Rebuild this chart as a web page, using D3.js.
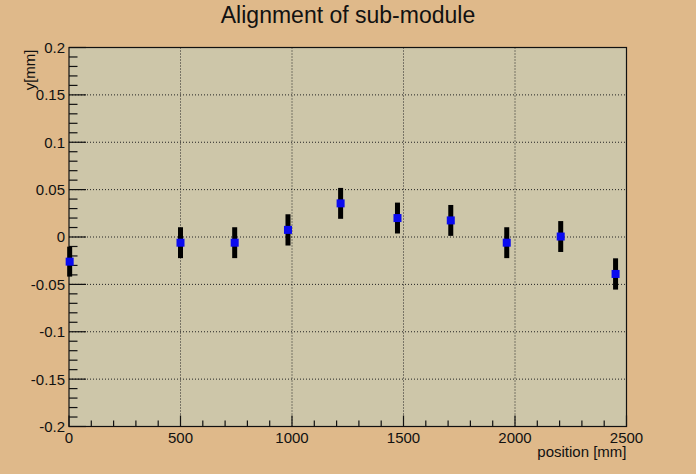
<!DOCTYPE html>
<html>
<head>
<meta charset="utf-8">
<script src="https://cdn.jsdelivr.net/npm/d3@7"></script>
<style>
  body { margin: 0; background: #dfb98a; }
  text { font-family: "Liberation Sans", Arial, Helvetica, sans-serif; fill: #111; }
</style>
</head>
<body>
<div id="chart"></div>
<script>
// module positions along the beam and measured y offsets
const positions = [3, 500, 743, 982, 1218, 1473, 1712, 1963, 2205, 2451];
const yOffsets = [-0.026, -0.006, -0.006, 0.0075, 0.0355, 0.020, 0.0175, -0.006, 0.0005, -0.039];
const yErrors = [0.0158, 0.0163, 0.0163, 0.0165, 0.0163, 0.0163, 0.0163, 0.0163, 0.0163, 0.0165];
const xTicks = [0, 500, 1000, 1500, 2000, 2500];
const yTicks = [-0.2, -0.15, -0.1, -0.05, 0, 0.05, 0.1, 0.15, 0.2];

const W = 696, H = 474;
const margin = { top: 47.5, right: 69.5, bottom: 47.5, left: 69 };
const w = W - margin.left - margin.right,
    h = H - margin.top - margin.bottom;

const svg = d3.select("#chart").append("svg")
    .attr("width", W)
    .attr("height", H);

svg.append("rect")
    .attr("width", W).attr("height", H)
    .attr("fill", "#dfb98a");

//Title
svg.append("text")
    .attr("x", W / 2)
    .attr("y", 23)
    .attr("text-anchor", "middle")
    .style("font-size", "23px")
    .text("Alignment of sub-module");

const g = svg.append("g")
    .attr("transform", "translate(" + margin.left + "," + margin.top + ")");

const x = d3.scaleLinear().domain([0, 2500]).range([0, w]);
const y = d3.scaleLinear().domain([-0.2, 0.2]).range([h, 0]);

//Frame
g.append("rect")
    .attr("width", w).attr("height", h)
    .attr("fill", "#cdc6a9");

//Dotted grid on the major ticks
g.selectAll(".gx").data(xTicks.slice(1, -1)).enter()
    .append("line")
    .attr("x1", d => x(d)).attr("x2", d => x(d))
    .attr("y1", 0).attr("y2", h)
    .attr("stroke", "#222").attr("stroke-width", 1)
    .attr("stroke-dasharray", "1,2");
g.selectAll(".gy").data(yTicks.slice(1, -1)).enter()
    .append("line")
    .attr("y1", d => y(d)).attr("y2", d => y(d))
    .attr("x1", 0).attr("x2", w)
    .attr("stroke", "#222").attr("stroke-width", 1)
    .attr("stroke-dasharray", "1,2");

//Frame border
g.append("rect")
    .attr("width", w).attr("height", h)
    .attr("fill", "none")
    .attr("stroke", "#111").attr("stroke-width", 1.2);

//X axis, ticks pointing inside
const xMinor = d3.range(0, 2501, 100);
g.selectAll(".xt").data(xMinor).enter()
    .append("line")
    .attr("x1", d => x(d)).attr("x2", d => x(d))
    .attr("y1", h)
    .attr("y2", d => h - (d % 500 === 0 ? 11 : 6))
    .attr("stroke", "#111").attr("stroke-width", 1.2);

g.selectAll(".xl").data(xTicks).enter()
    .append("text")
    .attr("x", d => x(d))
    .attr("y", h + 16)
    .attr("text-anchor", "middle")
    .style("font-size", "15px")
    .text(d => d);

//Y axis
const yMinor = d3.range(-200, 201, 10).map(d => d / 1000);
g.selectAll(".yt").data(yMinor).enter()
    .append("line")
    .attr("y1", d => y(d)).attr("y2", d => y(d))
    .attr("x1", 0)
    .attr("x2", (d, i) => (i % 5 === 0 ? 17 : 8.5))
    .attr("stroke", "#111").attr("stroke-width", 1.2);

// plain hyphen for negatives, like the original
const fmt = d => String(+d.toFixed(3));
g.selectAll(".yl").data(yTicks).enter()
    .append("text")
    .attr("x", -4)
    .attr("y", d => y(d))
    .attr("dy", "0.36em")
    .attr("text-anchor", "end")
    .style("font-size", "15px")
    .text(fmt);

//Axis titles
svg.append("text")
    .attr("x", margin.left + w)
    .attr("y", 457)
    .attr("text-anchor", "end")
    .style("font-size", "15px")
    .text("position [mm]");

svg.append("text")
    .attr("transform", "translate(35," + (margin.top + 2) + ") rotate(-90)")
    .attr("text-anchor", "end")
    .style("font-size", "15px")
    .text("y[mm]");

//Error bars and markers
const pts = positions.map((p, i) => ({ x: p, y: yOffsets[i], e: yErrors[i] }));

g.selectAll(".err").data(pts).enter()
    .append("rect")
    .attr("x", d => x(d.x) - 2.5)
    .attr("y", d => y(d.y + d.e))
    .attr("width", 5)
    .attr("height", d => y(d.y - d.e) - y(d.y + d.e))
    .attr("fill", "#000");

g.selectAll(".mk").data(pts).enter()
    .append("rect")
    .attr("x", d => x(d.x) - 4)
    .attr("y", d => y(d.y) - 4)
    .attr("width", 8)
    .attr("height", 8)
    .attr("fill", "#0a0af0");
</script>
</body>
</html>
